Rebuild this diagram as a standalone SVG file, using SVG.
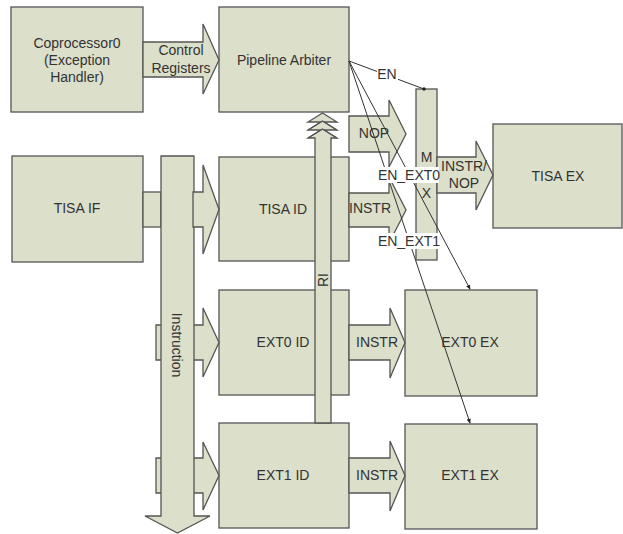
<svg xmlns="http://www.w3.org/2000/svg" width="623" height="534" viewBox="0 0 623 534">
<defs>
<style>
.b{fill:#dcdfca;stroke:#555;stroke-width:1.3}
.t{font-family:"Liberation Sans",Arial,sans-serif;font-size:14px;fill:#333;text-anchor:middle}
.l{fill:none;stroke:#333;stroke-width:1}
.bg{fill:#fff}
</style>
<marker id="ah" viewBox="0 0 6 6" refX="5" refY="3" markerWidth="5" markerHeight="5" orient="auto"><path d="M0,0.5 L6,3 L0,5.5 Z" fill="#222"/></marker>
<marker id="dot" viewBox="0 0 6 6" refX="3" refY="3" markerWidth="4" markerHeight="4"><circle cx="3" cy="3" r="2.6" fill="#222"/></marker>
</defs>
<rect width="623" height="534" fill="#fff"/>

<g id="coprocessor0">
<rect class="b" x="11" y="7" width="132" height="105"/>
<text class="t" x="77" y="48">Coprocessor0</text>
<text class="t" x="77" y="65">(Exception</text>
<text class="t" x="77" y="82">Handler)</text>
</g>
<g id="pipeline-arbiter">
<rect class="b" x="219" y="7" width="130" height="105"/>
<text class="t" x="284" y="65">Pipeline Arbiter</text>
</g>
<g id="tisa-if">
<rect class="b" x="12" y="156" width="131" height="106"/>
<text class="t" x="77" y="213">TISA IF</text>
</g>
<g id="tisa-id">
<rect class="b" x="219" y="157" width="130" height="104"/>
<text class="t" x="283" y="214">TISA ID</text>
</g>
<g id="ext0-id">
<rect class="b" x="219" y="290" width="130" height="105"/>
<text class="t" x="283" y="347">EXT0 ID</text>
</g>
<g id="ext1-id">
<rect class="b" x="219" y="423" width="130" height="105"/>
<text class="t" x="283" y="480">EXT1 ID</text>
</g>
<g id="tisa-ex">
<rect class="b" x="493" y="124" width="129" height="104"/>
<text class="t" x="558" y="181">TISA EX</text>
</g>
<g id="ext0-ex">
<rect class="b" x="405" y="290" width="132" height="106"/>
<text class="t" x="470" y="347">EXT0 EX</text>
</g>
<g id="ext1-ex">
<rect class="b" x="405" y="424" width="132" height="105"/>
<text class="t" x="470" y="480">EXT1 EX</text>
</g>

<g id="connectors">
<!-- Control Registers -->
<polygon class="b" points="143,42 203,42 203,24 219,60 203,94 203,77 143,77"/>
<text class="t" x="181" y="55">Control</text>
<text class="t" x="181" y="73">Registers</text>

<!-- TISA IF to Instruction bus -->
<rect class="b" x="143" y="192" width="18" height="35"/>

<!-- Instruction bus to EXT0/EXT1 ID (start behind bus) -->
<polygon class="b" points="156,325 203,325 203,308 219,342.5 203,377 203,360 156,360"/>
<polygon class="b" points="156,458 203,458 203,442 219,475.5 203,510 203,493 156,493"/>

<!-- Instruction bus -->
<polygon class="b" points="161,156 194,156 194,516 210,516 177.5,533 145,516 161,516"/>
<text class="t" transform="translate(172,345) rotate(90)">Instruction</text>

<!-- Bus to TISA ID -->
<polygon class="b" points="193,192 203,192 203,165 219,209.5 203,254 203,227 193,227"/>

<!-- RI -->
<polygon class="b" points="315,423 315,138 308,138 320.9,130 308,130 320.9,122 308,122 322.5,113 337,122 324.1,122 337,130 324.1,130 337,138 331,138 331,423"/>
<polyline class="l" style="stroke:#555;stroke-width:1.3" points="308,130 322.5,121 337,130"/>
<polyline class="l" style="stroke:#555;stroke-width:1.3" points="308,138 322.5,129 337,138"/>
<text class="t" transform="translate(328,280) rotate(-90)">RI</text>

<!-- NOP and INSTR into MUX -->
<polygon class="b" points="349,116 389,116 389,100 406,134 389,167 389,152 349,152"/>
<text class="t" x="374" y="138">NOP</text>
<polygon class="b" points="349,193 389,193 389,177 406,210 389,243 389,227 349,227"/>
<text class="t" x="370" y="213">INSTR</text>

<!-- MUX -->
<rect class="b" x="416" y="89" width="21" height="171"/>
<text class="t" x="426.5" y="162">M</text>
<text class="t" x="426.5" y="198">X</text>

<!-- INSTR/NOP -->
<polygon class="b" points="437,157 476,157 476,141 493,175 476,210 476,193 437,193"/>
<text class="t" x="464" y="171">INSTR/</text>
<text class="t" x="464" y="188">NOP</text>

<!-- INSTR to EXT EX -->
<polygon class="b" points="349,325 390,325 390,308 405,342.5 390,378 390,360 349,360"/>
<text class="t" x="377" y="347">INSTR</text>
<polygon class="b" points="349,458 390,458 390,441 405,475.5 390,511 390,493 349,493"/>
<text class="t" x="377" y="480">INSTR</text>

<!-- enable lines -->
<line class="l" x1="349" y1="61" x2="424" y2="89" marker-end="url(#dot)"/>
<line class="l" x1="349" y1="61" x2="470" y2="289" marker-end="url(#ah)"/>
<line class="l" x1="349" y1="61" x2="470" y2="423" marker-end="url(#ah)"/>
<rect class="bg" x="377" y="65" width="21" height="16"/>
<text class="t" x="387" y="79">EN</text>
<rect class="bg" x="380" y="167" width="59" height="16"/>
<text class="t" x="409" y="180">EN_EXT0</text>
<rect class="bg" x="380" y="233" width="59" height="16"/>
<text class="t" x="409" y="246">EN_EXT1</text>
</g>
</svg>
